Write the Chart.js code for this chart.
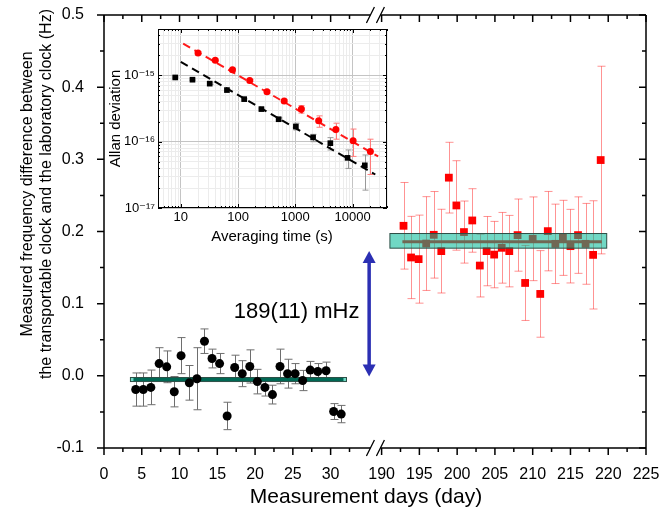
<!DOCTYPE html>
<html>
<head>
<meta charset="utf-8">
<script src="https://cdn.jsdelivr.net/npm/chart.js@4.4.1/dist/chart.umd.min.js"></script>
<style>
  body { margin: 0; background: #fff; }
  #wrap { position: relative; width: 661px; height: 519px; }
  #main { position: absolute; left: 0; top: 0; }
  #inset { position: absolute; left: 106px; top: 18px; }
</style>
</head>
<body>
<div id="wrap">
  <canvas id="main" width="661" height="519" style="width:661px;height:519px"></canvas>
  <canvas id="inset" width="290" height="232" style="width:290px;height:232px"></canvas>
</div>
<script>
const FONT = "'Liberation Sans', Arial, 'DejaVu Sans', sans-serif";

// ---- main chart data ----
// first campaign (black), days 4..31
const days1 = [4.2, 5.2, 6.2, 7.3, 8.3, 9.3, 10.2, 11.3, 12.3, 13.3, 14.3, 15.3, 16.3, 17.3,
               18.3, 19.3, 20.3, 21.3, 22.3, 23.3, 24.3, 25.3, 26.3, 27.3, 28.3, 29.4, 30.4, 31.4];
const diff1 = [-0.019, -0.019, -0.016, 0.017, 0.0125, -0.022, 0.028, -0.0097, -0.004, 0.048,
               0.024, 0.017, -0.0556, 0.0116, 0.003, 0.013, -0.008, -0.016, -0.026, 0.013,
               0.003, 0.003, -0.0065, 0.008, 0.006, 0.007, -0.0495, -0.053];
const err1 = [0.023, 0.023, 0.024, 0.022, 0.022, 0.021, 0.025, 0.024, 0.043, 0.017,
              0.013, 0.014, 0.019, 0.017, 0.018, 0.023, 0.017, 0.012, 0.013, 0.024,
              0.020, 0.014, 0.014, 0.012, 0.011, 0.012, 0.011, 0.012];

// second campaign (red), days 193..219
const days2 = [192.9, 193.9, 194.9, 195.9, 196.9, 197.9, 198.9, 199.9, 200.9, 202.0, 203.0,
               203.9, 204.9, 205.9, 206.9, 208.0, 209.0, 210.0, 211.0, 212.0, 213.0, 214.0,
               215.0, 216.0, 217.0, 218.0, 219.0];
const diff2 = [0.2079, 0.164, 0.1617, 0.1833, 0.1954, 0.1728, 0.2746, 0.2361, 0.1992, 0.2153,
               0.1528, 0.1728, 0.168, 0.1774, 0.1728, 0.195, 0.1287, 0.1899, 0.1135, 0.2005,
               0.1829, 0.1912, 0.1797, 0.195, 0.1829, 0.1676, 0.299];
const err2 = [0.060, 0.057, 0.061, 0.065, 0.060, 0.058, 0.049, 0.062, 0.043, 0.044, 0.0435,
              0.048, 0.046, 0.049, 0.0495, 0.050, 0.052, 0.058, 0.060, 0.055, 0.055, 0.052,
              0.051, 0.053, 0.056, 0.075, 0.13];

// weighted means with uncertainty bands
const mean1 = -0.005, band1 = [-0.0079, -0.0023], span1 = [3.5, 32.1], line1Span = [3.9, 31.7];
const mean2 = 0.1857, band2 = [0.1769, 0.1972], span2 = [191.1, 219.8], line2Span = [192.75, 219.15];
const shiftSpan = [-0.001, 0.173];   // double arrow
const shiftDay = 35.1;
const shiftLabel = '189(11) mHz', shiftLabelAt = [25.5, 0.088];

const xTickDays = [0, 5, 10, 15, 20, 25, 30, 190, 195, 200, 205, 210, 215, 220, 225];
const xMinorDays = [2.5, 7.5, 12.5, 17.5, 22.5, 27.5, 32.5, 192.5, 197.5, 202.5, 207.5, 212.5, 217.5, 222.5];
const yTicks = [-0.1, 0.0, 0.1, 0.2, 0.3, 0.4, 0.5];
const yTickLabels = ['-0.1', '0.0', '0.1', '0.2', '0.3', '0.4', '0.5'];
const yMinor = [-0.05, 0.05, 0.15, 0.25, 0.35, 0.45];

// broken axis: days after the gap are pulled left
const BREAK_SHIFT = 153.25;
const BREAK_AT = 35.93;
const toAxis = d => d >= 100 ? d - BREAK_SHIFT : d;

function px(chart, d) { return chart.scales.x.getPixelForValue(toAxis(d)); }
function py(chart, v) { return chart.scales.y.getPixelForValue(v); }

function errorBars(ctx, chart, days, vals, errs, color, cap) {
  ctx.strokeStyle = color;
  ctx.lineWidth = 1;
  days.forEach((d, i) => {
    const x = Math.round(px(chart, d)) + 0.5;
    const top = py(chart, vals[i] + errs[i]);
    const bot = py(chart, vals[i] - errs[i]);
    ctx.beginPath();
    ctx.moveTo(x, top); ctx.lineTo(x, bot);
    ctx.moveTo(x - cap, top); ctx.lineTo(x + cap, top);
    ctx.moveTo(x - cap, bot); ctx.lineTo(x + cap, bot);
    ctx.stroke();
  });
}

function meanLine(ctx, chart, span, v, color, w) {
  ctx.strokeStyle = color;
  ctx.lineWidth = w;
  ctx.beginPath();
  ctx.moveTo(px(chart, span[0]), py(chart, v));
  ctx.lineTo(px(chart, span[1]), py(chart, v));
  ctx.stroke();
}

function bandBox(ctx, chart, span, range) {
  const x0 = px(chart, span[0]), x1 = px(chart, span[1]);
  const y0 = py(chart, range[1]), y1 = py(chart, range[0]);
  ctx.fillStyle = 'rgba(0, 186, 150, 0.56)';
  ctx.fillRect(x0, y0, x1 - x0, y1 - y0);
  ctx.strokeStyle = '#2c4f46';
  ctx.lineWidth = 1;
  ctx.strokeRect(x0, y0, x1 - x0, y1 - y0);
}

const mainMarks = {
  id: 'mainMarks',
  beforeDatasetsDraw(chart) {
    const ctx = chart.ctx;
    ctx.save();
    errorBars(ctx, chart, days1, diff1, err1, '#6e6e6e', 4);
    meanLine(ctx, chart, line1Span, mean1, '#000', 3);
    bandBox(ctx, chart, span1, band1);
    errorBars(ctx, chart, days2, diff2, err2, 'rgba(255, 40, 40, 0.5)', 4);
    meanLine(ctx, chart, line2Span, mean2, '#ff0000', 3);
    ctx.restore();
  },
  afterDatasetsDraw(chart) {
    const ctx = chart.ctx;
    const ca = chart.chartArea;
    ctx.save();
    bandBox(ctx, chart, span2, band2);

    // double arrow
    const ax = px(chart, shiftDay);
    const yb = py(chart, shiftSpan[0]), yt = py(chart, shiftSpan[1]);
    ctx.strokeStyle = '#2b2fb3';
    ctx.fillStyle = '#2b2fb3';
    ctx.lineWidth = 3.5;
    ctx.beginPath(); ctx.moveTo(ax, yt + 9); ctx.lineTo(ax, yb - 9); ctx.stroke();
    ctx.beginPath(); ctx.moveTo(ax, yt); ctx.lineTo(ax - 6.5, yt + 12); ctx.lineTo(ax + 6.5, yt + 12); ctx.closePath(); ctx.fill();
    ctx.beginPath(); ctx.moveTo(ax, yb); ctx.lineTo(ax - 6.5, yb - 12); ctx.lineTo(ax + 6.5, yb - 12); ctx.closePath(); ctx.fill();

    ctx.fillStyle = '#000';
    ctx.font = '22px ' + FONT;
    ctx.textAlign = 'center';
    ctx.textBaseline = 'middle';
    ctx.fillText(shiftLabel, px(chart, shiftLabelAt[0]), py(chart, shiftLabelAt[1]));

    // frame with axis break
    const bx = chart.scales.x.getPixelForValue(BREAK_AT);
    ctx.strokeStyle = '#000';
    ctx.lineWidth = 1.5;
    ctx.beginPath();
    ctx.moveTo(ca.left, ca.top); ctx.lineTo(ca.left, ca.bottom);
    ctx.moveTo(ca.right, ca.top); ctx.lineTo(ca.right, ca.bottom);
    [ca.top, ca.bottom].forEach(yy => {
      ctx.moveTo(ca.left, yy); ctx.lineTo(bx - 5, yy);
      ctx.moveTo(bx + 5, yy); ctx.lineTo(ca.right, yy);
    });
    ctx.stroke();
    ctx.lineWidth = 1.3;
    ctx.beginPath();
    [ca.top, ca.bottom].forEach(yy => {
      [-5, 5].forEach(o => {
        ctx.moveTo(bx + o - 4, yy + 8); ctx.lineTo(bx + o + 4, yy - 8);
      });
    });
    ctx.stroke();

    // ticks: bottom/left outward, top/right inward
    ctx.lineWidth = 1.5;
    ctx.beginPath();
    const xt = (list, len) => list.forEach(d => {
      const x = px(chart, d);
      ctx.moveTo(x, ca.bottom); ctx.lineTo(x, ca.bottom + len);
      ctx.moveTo(x, ca.top); ctx.lineTo(x, ca.top + len);
    });
    xt(xTickDays, 7); xt(xMinorDays, 4);
    const yt2 = (list, len) => list.forEach(v => {
      const y = py(chart, v);
      ctx.moveTo(ca.left, y); ctx.lineTo(ca.left - len, y);
      ctx.moveTo(ca.right, y); ctx.lineTo(ca.right - len, y);
    });
    yt2(yTicks, 7); yt2(yMinor, 4);
    ctx.stroke();

    // axis titles
    ctx.font = '16px ' + FONT;
    ctx.save();
    ctx.translate(28, 194);
    ctx.rotate(-Math.PI / 2);
    ctx.fillText('Measured frequency difference between', 0, 0);
    ctx.fillText('the transportable clock and the laboratory clock (Hz)', 0, 19);
    ctx.restore();
    ctx.font = '21px ' + FONT;
    ctx.fillText('Measurement days (day)', 366, 497);
    ctx.restore();
  }
};

new Chart(document.getElementById('main'), {
  type: 'scatter',
  data: {
    datasets: [
      {
        data: days1.map((d, i) => ({ x: toAxis(d), y: diff1[i] })),
        pointStyle: 'circle', pointRadius: 4.5,
        backgroundColor: '#000', borderColor: '#000', borderWidth: 0
      },
      {
        data: days2.map((d, i) => ({ x: toAxis(d), y: diff2[i] })),
        pointStyle: 'rect', pointRadius: 5.5,
        backgroundColor: '#ff0000', borderColor: '#ff0000', borderWidth: 0
      }
    ]
  },
  options: {
    responsive: false,
    animation: false,
    events: [],
    layout: { padding: { top: 15, right: 15, left: 0, bottom: 0 } },
    plugins: { legend: { display: false }, tooltip: { enabled: false } },
    scales: {
      x: {
        type: 'linear', min: 0, max: toAxis(225),
        afterBuildTicks: s => { s.ticks = xTickDays.map(d => ({ value: toAxis(d) })); },
        afterFit: s => { s.height = 71; s.paddingLeft = 0; s.paddingRight = 0; },
        grid: { display: false }, border: { display: false },
        ticks: {
          color: '#000', font: { family: FONT, size: 16 }, padding: 9,
          autoSkip: false, maxRotation: 0,
          callback: (v, i) => String(xTickDays[i])
        }
      },
      y: {
        min: -0.1, max: 0.5,
        afterBuildTicks: s => { s.ticks = yTicks.map(v => ({ value: v })); },
        afterFit: s => { s.width = 104; s.paddingTop = 0; s.paddingBottom = 0; },
        grid: { display: false }, border: { display: false },
        ticks: {
          color: '#000', font: { family: FONT, size: 16 }, padding: 12,
          callback: (v, i) => yTickLabels[i]
        }
      }
    }
  },
  plugins: [mainMarks]
});

// ---- inset: Allan deviation ----
const tauRed = [20, 40, 80, 160, 320, 640, 1280, 2560, 5120, 10240, 20480];
const adevRed = [2.18e-15, 1.69e-15, 1.21e-15, 8.4e-16, 5.66e-16, 4.09e-16, 3.1e-16, 2.06e-16, 1.52e-16, 1.03e-16, 7.1e-17];
const adevRedLo = [2.1e-15, 1.63e-15, 1.15e-15, 8.1e-16, 5.4e-16, 3.85e-16, 2.7e-16, 1.65e-16, 1.09e-16, 6.0e-17, 3.2e-17];
const adevRedHi = [2.26e-15, 1.75e-15, 1.27e-15, 8.7e-16, 5.9e-16, 4.35e-16, 3.5e-16, 2.45e-16, 1.9e-16, 1.55e-16, 1.09e-16];

const tauBlack = [8, 16, 32, 64, 128, 256, 512, 1024, 2048, 4096, 8192, 16384];
const adevBlack = [9.3e-16, 8.6e-16, 7.5e-16, 6.0e-16, 4.38e-16, 3.1e-16, 2.18e-16, 1.69e-16, 1.16e-16, 9.5e-17, 5.7e-17, 4.4e-17];
const adevBlackLo = [9.1e-16, 8.4e-16, 7.3e-16, 5.8e-16, 4.25e-16, 3.0e-16, 2.08e-16, 1.5e-16, 1.0e-16, 7.5e-17, 3.95e-17, 1.86e-17];
const adevBlackHi = [9.5e-16, 8.8e-16, 7.7e-16, 6.2e-16, 4.5e-16, 3.2e-16, 2.28e-16, 1.9e-16, 1.29e-16, 1.15e-16, 7.5e-17, 6.3e-17];

const fitRedTau = [11, 28000], fitRedAdev = [3.0e-15, 6.0e-17];
const fitBlackTau = [10, 25000], fitBlackAdev = [1.6e-15, 3.2e-17];

const insetXDecades = [10, 100, 1000, 10000];
const insetXLabels = ['10', '100', '1000', '10000'];
const insetYDecades = [1e-17, 1e-16, 1e-15];
const insetYLabels = ['10\u207B\u00B9\u2077', '10\u207B\u00B9\u2076', '10\u207B\u00B9\u2075'];

function logTicks(min, max) {
  const out = [];
  for (let e = Math.floor(Math.log10(min)); e <= Math.ceil(Math.log10(max)); e++) {
    for (let m = 1; m <= 9; m++) {
      const v = m * Math.pow(10, e);
      if (v >= min * 0.999 && v <= max * 1.001) out.push(v);
    }
  }
  return out;
}
const isDecade = v => Math.abs(Math.log10(v) - Math.round(Math.log10(v))) < 1e-6;
const findLabel = (v, decs, labels) => {
  const i = decs.findIndex(d => Math.abs(v / d - 1) < 1e-6);
  return i >= 0 ? labels[i] : '';
};

const insetMarks = {
  id: 'insetMarks',
  beforeDatasetsDraw(chart) {
    const { ctx, scales: { x, y } } = chart;
    ctx.save();
    ctx.lineWidth = 1;
    const bars = (taus, lo, hi, color) => {
      ctx.strokeStyle = color;
      taus.forEach((t, i) => {
        const xp = Math.round(x.getPixelForValue(t)) + 0.5;
        const a = y.getPixelForValue(hi[i]), b = y.getPixelForValue(lo[i]);
        ctx.beginPath();
        ctx.moveTo(xp, a); ctx.lineTo(xp, b);
        ctx.moveTo(xp - 3, a); ctx.lineTo(xp + 3, a);
        ctx.moveTo(xp - 3, b); ctx.lineTo(xp + 3, b);
        ctx.stroke();
      });
    };
    bars(tauBlack, adevBlackLo, adevBlackHi, '#999');
    bars(tauRed, adevRedLo, adevRedHi, '#ff7a7a');
    ctx.restore();
  },
  afterDraw(chart) {
    const { ctx, chartArea: ca, scales: { x, y } } = chart;
    ctx.save();
    ctx.strokeStyle = '#000';
    ctx.lineWidth = 1;
    ctx.strokeRect(ca.left + 0.5, ca.top + 0.5, ca.right - ca.left - 1, ca.bottom - ca.top - 1);
    ctx.beginPath();
    x.ticks.forEach(t => {
      const xp = Math.round(x.getPixelForValue(t.value)) + 0.5;
      const len = isDecade(t.value) ? 4 : 2;
      ctx.moveTo(xp, ca.bottom); ctx.lineTo(xp, ca.bottom - len);
      ctx.moveTo(xp, ca.top); ctx.lineTo(xp, ca.top + len);
    });
    y.ticks.forEach(t => {
      const yp = Math.round(y.getPixelForValue(t.value)) + 0.5;
      const len = isDecade(t.value) ? 4 : 2;
      ctx.moveTo(ca.left, yp); ctx.lineTo(ca.left + len, yp);
      ctx.moveTo(ca.right, yp); ctx.lineTo(ca.right - len, yp);
    });
    ctx.stroke();

    ctx.fillStyle = '#000';
    ctx.font = '15px ' + FONT;
    ctx.textAlign = 'center';
    ctx.textBaseline = 'middle';
    ctx.fillText('Averaging time (s)', 166, 219);
    ctx.translate(10, (ca.top + ca.bottom) / 2);
    ctx.rotate(-Math.PI / 2);
    ctx.fillText('Allan deviation', 0, 0);
    ctx.restore();
  }
};

new Chart(document.getElementById('inset'), {
  type: 'scatter',
  data: {
    datasets: [
      {
        data: tauRed.map((t, i) => ({ x: t, y: adevRed[i] })),
        pointStyle: 'circle', pointRadius: 3.5,
        backgroundColor: '#ff0000', borderWidth: 0
      },
      {
        data: tauBlack.map((t, i) => ({ x: t, y: adevBlack[i] })),
        pointStyle: 'rect', pointRadius: 4,
        backgroundColor: '#000', borderWidth: 0
      },
      {
        type: 'line',
        data: fitRedTau.map((t, i) => ({ x: t, y: fitRedAdev[i] })),
        borderColor: '#ff1a1a', borderWidth: 2, borderDash: [8, 5], pointRadius: 0
      },
      {
        type: 'line',
        data: fitBlackTau.map((t, i) => ({ x: t, y: fitBlackAdev[i] })),
        borderColor: '#000', borderWidth: 2, borderDash: [8, 5], pointRadius: 0
      }
    ]
  },
  options: {
    responsive: false,
    animation: false,
    events: [],
    layout: { padding: { top: 11, right: 9, left: 0, bottom: 0 } },
    plugins: { legend: { display: false }, tooltip: { enabled: false } },
    scales: {
      x: {
        type: 'logarithmic', min: 4, max: 40000,
        afterBuildTicks: s => { s.ticks = logTicks(4, 40000).map(v => ({ value: v })); },
        afterFit: s => { s.height = 42; s.paddingLeft = 0; s.paddingRight = 0; },
        grid: { drawTicks: false, color: c => isDecade(c.tick.value) ? '#c4c4c4' : '#ececec' },
        border: { display: false },
        ticks: {
          color: '#000', font: { family: FONT, size: 13 }, padding: 2,
          autoSkip: false, maxRotation: 0,
          callback: v => findLabel(v, insetXDecades, insetXLabels)
        }
      },
      y: {
        type: 'logarithmic', min: 1e-17, max: 5e-15,
        afterBuildTicks: s => { s.ticks = logTicks(1e-17, 5e-15).map(v => ({ value: v })); },
        afterFit: s => { s.width = 52; s.paddingTop = 0; s.paddingBottom = 0; },
        grid: { drawTicks: false, color: c => isDecade(c.tick.value) ? '#c4c4c4' : '#ececec' },
        border: { display: false },
        ticks: {
          color: '#000', font: { family: FONT, size: 13 }, padding: 3,
          autoSkip: false,
          callback: v => findLabel(v, insetYDecades, insetYLabels)
        }
      }
    }
  },
  plugins: [insetMarks]
});
</script>
</body>
</html>
